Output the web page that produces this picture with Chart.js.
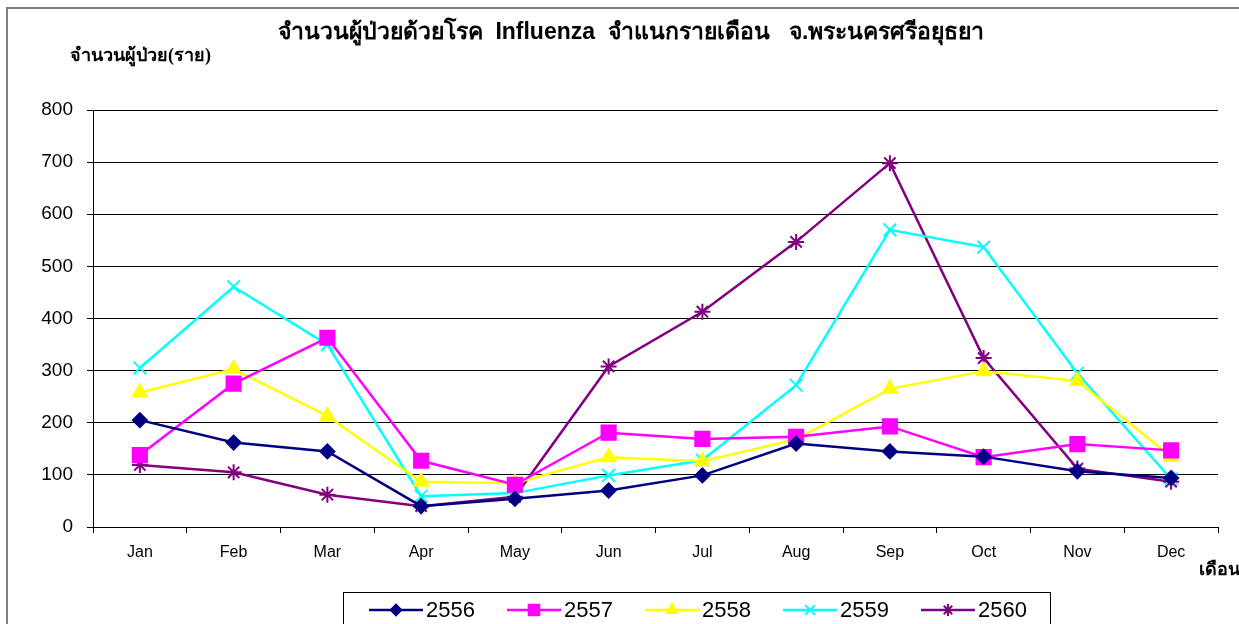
<!DOCTYPE html>
<html>
<head>
<meta charset="utf-8">
<script src="https://cdn.jsdelivr.net/npm/chart.js@4/dist/chart.umd.min.js"></script>
<style>
  html, body { margin: 0; padding: 0; background: #fff; }
  #wrap { width: 1239px; height: 624px; }
</style>
</head>
<body>
<div id="wrap"><canvas id="flu-chart" width="1239" height="624"></canvas></div>
<script>
const months = ['Jan', 'Feb', 'Mar', 'Apr', 'May', 'Jun', 'Jul', 'Aug', 'Sep', 'Oct', 'Nov', 'Dec']
const years = ['2556', '2557', '2558', '2559', '2560']
const cases2556 = [205, 162, 145, 40, 54, 70, 99, 160, 145, 135, 107, 94]
const cases2557 = [138, 275, 363, 127, 81, 181, 169, 173, 193, 134, 159, 147]
const cases2558 = [258, 303, 213, 87, 84, 134, 126, 168, 265, 299, 280, 135]
const cases2559 = [305, 461, 350, 59, 65, 99, 128, 272, 570, 537, 295, 92]
const cases2560 = [119, 105, 62, 40, 58, 308, 413, 547, 698, 324, 112, 87]
const yTicks = [0, 100, 200, 300, 400, 500, 600, 700, 800]

const titleText = 'จำนวนผู้ป่วยด้วยโรค  Influenza  จำแนกรายเดือน   จ.พระนครศรีอยุธยา'
const yTitle = 'จำนวนผู้ป่วย(ราย)'
const xTitle = 'เดือน'

const seriesStyle = [
    { color: '#000080', point: 'rectRot', radius: 7 },
    { color: '#FF00FF', point: 'rect', radius: 10 },
    { color: '#FFFF00', point: 'triangle', radius: 8 },
    { color: '#00FFFF', point: 'crossRot', radius: 9 },
    { color: '#800080', point: 'star', radius: 8 }
]
const allCases = [cases2556, cases2557, cases2558, cases2559, cases2560]

const datasets = years.map((year, i) => ({
    label: year,
    data: allCases[i],
    borderColor: seriesStyle[i].color,
    backgroundColor: seriesStyle[i].color,
    pointBackgroundColor: seriesStyle[i].color,
    pointBorderColor: seriesStyle[i].color,
    pointStyle: seriesStyle[i].point,
    pointRadius: seriesStyle[i].radius,
    pointBorderWidth: 2,
    borderWidth: 2.5,
    tension: 0
}))

// frame, titles and legend box drawn on the canvas
const decorations = {
    id: 'decorations',
    afterDraw(chart) {
        const c = chart.ctx
        c.save()
        c.strokeStyle = '#808080'
        c.lineWidth = 2
        c.beginPath()
        c.moveTo(7, 700)
        c.lineTo(7, 8)
        c.lineTo(1300, 8)
        c.stroke()

        c.fillStyle = '#000'
        c.textBaseline = 'middle'
        c.textAlign = 'center'
        c.font = 'bold 23px "Liberation Sans", sans-serif'
        c.fillText(titleText, 631, 33)

        c.textAlign = 'left'
        c.font = 'bold 18px "Liberation Serif", serif'
        c.fillText(yTitle, 70, 56)
        c.fillText(xTitle, 1199, 570)

        // legend
        c.strokeStyle = '#000'
        c.lineWidth = 1
        c.strokeRect(343.5, 592.5, 707, 60)
        c.font = '22px "Liberation Sans", sans-serif'
        chart.data.datasets.forEach((ds, i) => {
            const x0 = 369 + i * 138
            const y = 610
            c.strokeStyle = ds.borderColor
            c.lineWidth = 2.5
            c.beginPath()
            c.moveTo(x0, y)
            c.lineTo(x0 + 54, y)
            c.stroke()
            c.fillStyle = ds.borderColor
            c.lineWidth = 2
            Chart.helpers.drawPoint(c, {
                pointStyle: ds.pointStyle,
                radius: ds.pointRadius * 0.75,
                rotation: 0,
                borderWidth: 2
            }, x0 + 27, y)
            c.fillStyle = '#000'
            c.fillText(ds.label, x0 + 57, y + 1)
        })
        c.restore()
    }
}

const ctx = document.getElementById('flu-chart').getContext('2d')
new Chart(ctx, {
    type: 'line',
    data: { labels: months, datasets: datasets },
    options: {
        responsive: false,
        animation: false,
        layout: { padding: { left: 0, right: 21, top: 110, bottom: 57 } },
        plugins: {
            legend: { display: false },
            title: { display: false },
            tooltip: { enabled: false }
        },
        scales: {
            x: {
                offset: true,
                afterFit: scale => { scale.height = 40 },
                grid: {
                    offset: true,
                    drawOnChartArea: false,
                    drawTicks: true,
                    tickLength: 6,
                    color: '#000'
                },
                border: { color: '#000', width: 1 },
                ticks: {
                    padding: 10,
                    color: '#000',
                    font: { family: '"Liberation Sans", sans-serif', size: 16 }
                }
            },
            y: {
                min: 0,
                max: 800,
                afterFit: scale => { scale.width = 93 },
                afterBuildTicks: scale => { scale.ticks = yTicks.map(v => ({ value: v })) },
                grid: {
                    color: '#000',
                    lineWidth: 1,
                    tickLength: 6
                },
                border: { color: '#000', width: 1 },
                ticks: {
                    padding: 14,
                    color: '#000',
                    font: { family: '"Liberation Sans", sans-serif', size: 19 }
                }
            }
        }
    },
    plugins: [decorations]
})
</script>
</body>
</html>
